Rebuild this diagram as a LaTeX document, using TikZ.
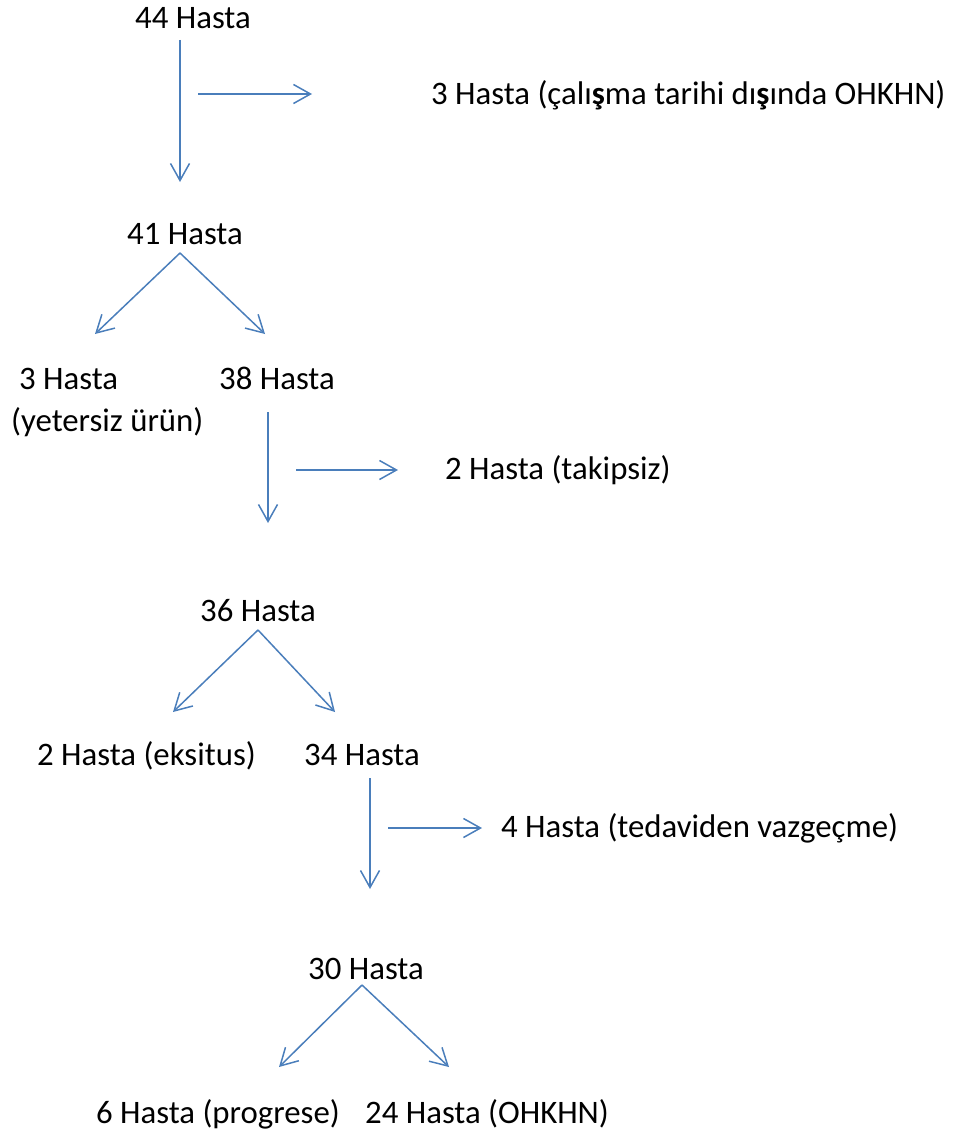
\documentclass[tikz,border=0pt]{standalone}
\usepackage{fontspec}
\setmainfont{Carlito}
\usetikzlibrary{arrows.meta}
\definecolor{arrowblue}{HTML}{4A7EBB}
\begin{document}
\begin{tikzpicture}[x=1pt,y=-1pt,
  lbl/.style={inner sep=0pt,anchor=base west,font=\fontsize{32.8}{42}\selectfont},
  conn/.style={draw=arrowblue,line width=1.5pt,-{Straight Barb[length=17pt,width=19pt]}}]
\useasboundingbox (0,0) rectangle (959,1137);
% texts
\node[lbl] (n44) at (135,29) {44 Hasta};
\node[lbl] (n3a) at (431,105) {3 Hasta (çalı\textbf{ş}ma tarihi dı\textbf{ş}ında OHKHN)};
\node[lbl] (n41) at (127,244) {41 Hasta};
\node[lbl,align=left] (n3b) at (11,431) {\hspace{8pt}3 Hasta\\(yetersiz ürün)};
\node[lbl] (n38) at (219,389) {38 Hasta};
\node[lbl] (n2a) at (445,479) {2 Hasta (takipsiz)};
\node[lbl] (n36) at (200,621) {36 Hasta};
\node[lbl] (n2b) at (37,765) {2 Hasta (eksitus)};
\node[lbl] (n34) at (304,765) {34 Hasta};
\node[lbl] (n4) at (501,837) {4 Hasta (tedaviden vazgeçme)};
\node[lbl] (n30) at (308,979) {30 Hasta};
\node[lbl] (n6) at (96,1123) {6 Hasta (progrese)};
\node[lbl] (n24) at (365,1123) {24 Hasta (OHKHN)};
% connector points
\coordinate (a1s) at (180,40);  \coordinate (a1e) at (180,182);
\coordinate (h1s) at (198,94);  \coordinate (h1e) at (312,94);
\coordinate (b1) at (180,253);  \coordinate (b1l) at (95,334); \coordinate (b1r) at (265,334);
\coordinate (a2s) at (268,412); \coordinate (a2e) at (268,523);
\coordinate (h2s) at (296,470); \coordinate (h2e) at (398,470);
\coordinate (b2) at (258,630);  \coordinate (b2l) at (173,712); \coordinate (b2r) at (335,712);
\coordinate (a3s) at (370,778); \coordinate (a3e) at (370,889);
\coordinate (h3s) at (388,828); \coordinate (h3e) at (482,828);
\coordinate (b3) at (362,985);  \coordinate (b3l) at (279,1067); \coordinate (b3r) at (449,1067);
% connectors
\draw[conn] (a1s) -- (a1e);
\draw[conn] (h1s) -- (h1e);
\draw[conn] (b1) -- (b1l);
\draw[conn] (b1) -- (b1r);
\draw[conn] (a2s) -- (a2e);
\draw[conn] (h2s) -- (h2e);
\draw[conn] (b2) -- (b2l);
\draw[conn] (b2) -- (b2r);
\draw[conn] (a3s) -- (a3e);
\draw[conn] (h3s) -- (h3e);
\draw[conn] (b3) -- (b3l);
\draw[conn] (b3) -- (b3r);
\end{tikzpicture}
\end{document}
